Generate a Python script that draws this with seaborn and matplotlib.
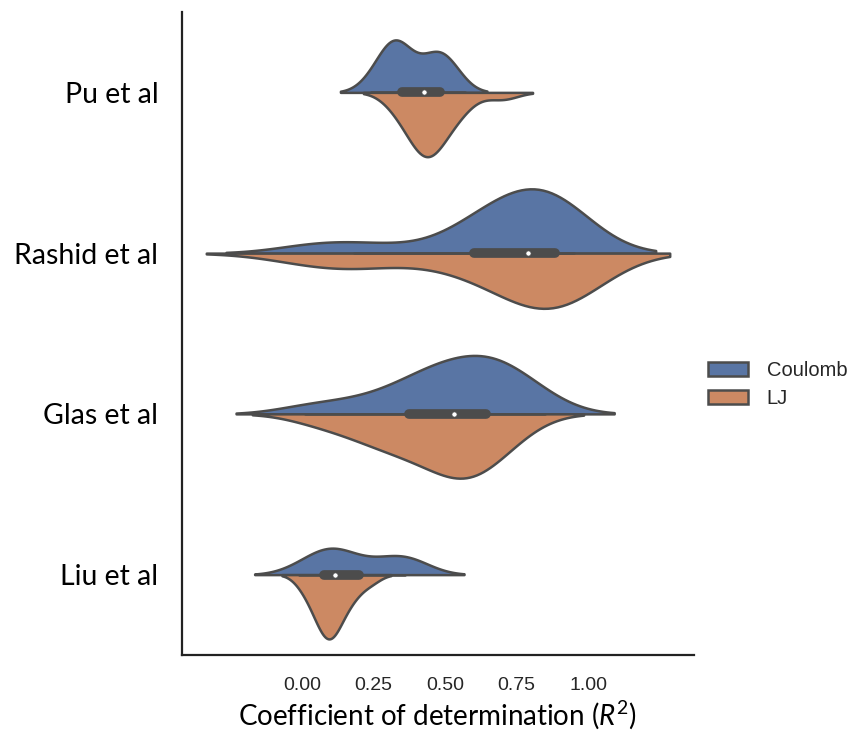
import numpy as np
import pandas as pd
import matplotlib
matplotlib.use("Agg")
import matplotlib.pyplot as plt
import seaborn as sns

# ---------------------------------------------------------------------------
# Datos: R^2 por modelo y potencial (leídos a ojo de la figura)
# ---------------------------------------------------------------------------
models = ["Pu et al", "Rashid et al", "Glas et al", "Liu et al"]
potentials = ["Coulomb", "LJ"]

pu_coulomb = [0.24, 0.28, 0.30, 0.31, 0.32, 0.33, 0.34, 0.35, 0.37, 0.42,
              0.45, 0.47, 0.48, 0.49, 0.51, 0.54]
pu_lj = [0.32, 0.35, 0.38, 0.40, 0.41, 0.42, 0.43, 0.44, 0.45, 0.46,
         0.47, 0.49, 0.51, 0.54, 0.57, 0.70]

rashid_coulomb = [0.02, 0.14, 0.30, 0.56, 0.60, 0.62, 0.66, 0.70, 0.73, 0.76,
                  0.78, 0.80, 0.82, 0.84, 0.86, 0.88, 0.90, 0.92, 0.93, 0.95]
rashid_lj = [0.00, 0.10, 0.18, 0.26, 0.50, 0.60, 0.64, 0.71, 0.76, 0.80,
             0.83, 0.85, 0.87, 0.88, 0.89, 0.90, 0.92, 0.93, 0.94, 0.95]

glas_coulomb = [0.01, 0.14, 0.25, 0.33, 0.38, 0.42, 0.45, 0.48, 0.51, 0.54,
                0.57, 0.60, 0.63, 0.65, 0.67, 0.69, 0.72, 0.75, 0.79, 0.85]
glas_lj = [0.04, 0.15, 0.22, 0.27, 0.31, 0.35, 0.39, 0.43, 0.46, 0.49,
           0.52, 0.54, 0.56, 0.58, 0.60, 0.62, 0.64, 0.67, 0.71, 0.77]

liu_coulomb = [-0.01, 0.03, 0.06, 0.08, 0.10, 0.11, 0.12, 0.14, 0.16, 0.22,
               0.28, 0.31, 0.34, 0.36, 0.38, 0.41]
liu_lj = [0.00, 0.03, 0.05, 0.06, 0.07, 0.08, 0.09, 0.10, 0.10, 0.11,
          0.12, 0.13, 0.15, 0.17, 0.19, 0.24]

xticks = [0.00, 0.25, 0.50, 0.75, 1.00]

series = {
    ("Pu et al", "Coulomb"): pu_coulomb, ("Pu et al", "LJ"): pu_lj,
    ("Rashid et al", "Coulomb"): rashid_coulomb, ("Rashid et al", "LJ"): rashid_lj,
    ("Glas et al", "Coulomb"): glas_coulomb, ("Glas et al", "LJ"): glas_lj,
    ("Liu et al", "Coulomb"): liu_coulomb, ("Liu et al", "LJ"): liu_lj,
}
rows = [(m, p, v) for (m, p), vals in series.items() for v in vals]
df = pd.DataFrame(rows, columns=["model", "potential", "r2"])

# ---------------------------------------------------------------------------
# Figura
# ---------------------------------------------------------------------------
sns.set_theme(style="white")
plt.rcParams["mathtext.fontset"] = "custom"
plt.rcParams["mathtext.rm"] = "Lato"
plt.rcParams["mathtext.it"] = "Lato:italic"

fig = plt.figure(figsize=(8.48, 7.32), dpi=100)
ax = fig.add_axes([0.2146, 0.1052, 0.6038, 0.8784])

# un violín por modelo -> normalización de área dentro de cada modelo
for i, m in enumerate(models):
    sns.violinplot(data=df[df.model == m], x="r2", y="model", hue="potential",
                   order=models, hue_order=potentials, split=True,
                   inner=None, common_norm=True, density_norm="area",
                   linewidth=1.8, palette="deep", saturation=0.75,
                   legend=(i == 0), ax=ax)

# caja interna con los datos combinados (como el seaborn antiguo)
gray = ax.collections[0].get_edgecolor()[0]
for i, m in enumerate(models):
    d = df.loc[df.model == m, "r2"].to_numpy()
    q25, q50, q75 = np.percentile(d, [25, 50, 75])
    lim = 1.5 * (q75 - q25)
    h1 = d[d >= q25 - lim].min()
    h2 = d[d <= q75 + lim].max()
    ax.plot([h1, h2], [i, i], color=gray, lw=1.8, zorder=3)
    ax.plot([q25, q75], [i, i], color=gray, lw=7, solid_capstyle="round", zorder=3)
    ax.scatter(q50, i, s=14, color="white", edgecolor=gray, linewidth=0.5, zorder=4)

ax.set_xlim(-0.42, 1.37)
ax.set_ylim(3.5, -0.5)
ax.set_xticks(xticks)
ax.set_xticklabels([f"{t:.2f}" for t in xticks], fontfamily="Liberation Sans",
                   fontsize=14, color=".15")
ax.set_yticks(range(len(models)))
ax.set_yticklabels(models, fontfamily="Lato", fontsize=20.5, color="black")
ax.tick_params(axis="x", length=0, pad=16)
ax.tick_params(axis="y", length=0, pad=17)
ax.set_ylabel("")
ax.set_xlabel("Coefficient of determination ($R^2$)", fontfamily="Lato",
              fontsize=20, color="black", labelpad=3)

sns.despine(ax=ax)
for s in ["left", "bottom"]:
    ax.spines[s].set_color("#222222")
    ax.spines[s].set_linewidth(1.6)

handles, labels = ax.get_legend_handles_labels()
ax.legend(handles, labels, loc="center left", bbox_to_anchor=(1.0, 0.42),
          frameon=False, prop={"family": "Liberation Sans", "size": 14.5},
          handlelength=2.0, handleheight=0.7, handletextpad=0.9,
          labelspacing=0.45, borderaxespad=0.3)

fig.savefig("out.png", dpi=100)
